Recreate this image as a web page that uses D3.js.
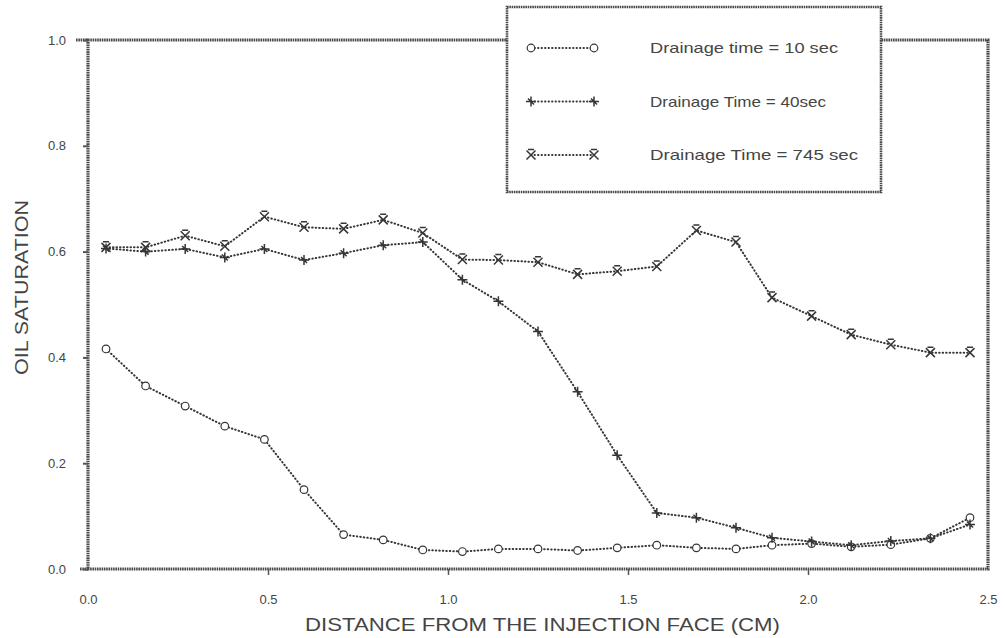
<!DOCTYPE html>
<html>
<head>
<meta charset="utf-8">
<script src="https://cdn.jsdelivr.net/npm/d3@7"></script>
<style>
  body { margin: 0; background: #fff; }
  svg text { font-family: "Liberation Sans", Arial, sans-serif; fill: #454545; }
</style>
</head>
<body>
<div id="chart"></div>
<script>
// distance from the injection face (cm)
const distance = [0.05, 0.16, 0.27, 0.38, 0.49, 0.60, 0.71, 0.82, 0.93, 1.04, 1.14, 1.25,
                  1.36, 1.47, 1.58, 1.69, 1.80, 1.90, 2.01, 2.12, 2.23, 2.34, 2.45];

const sat10 = [0.416, 0.346, 0.308, 0.270, 0.245, 0.150, 0.065, 0.055, 0.036, 0.033, 0.038, 0.038,
               0.035, 0.040, 0.045, 0.040, 0.038, 0.045, 0.048, 0.042, 0.046, 0.058, 0.097];
const sat40 = [0.606, 0.600, 0.605, 0.589, 0.605, 0.584, 0.597, 0.612, 0.618, 0.547, 0.506, 0.449,
               0.335, 0.215, 0.106, 0.097, 0.078, 0.059, 0.052, 0.045, 0.053, 0.058, 0.084];
const sat745 = [0.608, 0.608, 0.630, 0.610, 0.666, 0.646, 0.643, 0.660, 0.635, 0.585, 0.584, 0.580,
                0.557, 0.563, 0.572, 0.640, 0.618, 0.513, 0.478, 0.443, 0.424, 0.409, 0.409];

const seriesNames = ['Drainage time = 10 sec', 'Drainage Time = 40sec', 'Drainage Time = 745 sec'];
const seriesMarks = ['circle', 'plus', 'cross'];
const xTicks = [0.0, 0.5, 1.0, 1.5, 2.0, 2.5];
const yTicks = [0.0, 0.2, 0.4, 0.6, 0.8, 1.0];

const width = 1005, height = 638;
const ink = '#363636';
const frameInk = '#4a4a4a';

const x = d3.scaleLinear().domain([0, 2.5]).range([88, 988]);
const y = d3.scaleLinear().domain([0, 1]).range([569, 40]);

const svg = d3.select('#chart').append('svg')
    .attr('width', width)
    .attr('height', height);

// frame, drawn like the scanned hatched border
svg.append('rect')
    .attr('x', x(0)).attr('y', y(1))
    .attr('width', x(2.5) - x(0)).attr('height', y(0) - y(1))
    .attr('fill', 'none')
    .attr('stroke', frameInk)
    .attr('stroke-width', 3.2)
    .attr('stroke-dasharray', '1.6,0.7');

// little overhangs at the left of top and bottom lines
svg.append('line').attr('x1', x(0) - 12).attr('x2', x(0)).attr('y1', y(1)).attr('y2', y(1))
    .attr('stroke', frameInk).attr('stroke-width', 3.2).attr('stroke-dasharray', '1.6,0.7');
svg.append('line').attr('x1', x(0) - 8).attr('x2', x(0)).attr('y1', y(0)).attr('y2', y(0))
    .attr('stroke', frameInk).attr('stroke-width', 3.2).attr('stroke-dasharray', '1.6,0.7');

// axes
const yAxis = svg.append('g')
    .attr('transform', `translate(${x(0)},0)`)
    .call(d3.axisLeft(y).tickValues(yTicks).tickFormat(d3.format('.1f')).tickSize(5).tickPadding(17));
yAxis.select('.domain').remove();
yAxis.selectAll('line').attr('stroke', '#555').attr('stroke-width', 2);
yAxis.selectAll('text').attr('font-size', 13).attr('fill', '#555');

const xAxis = svg.append('g')
    .attr('transform', `translate(0,${y(0)})`)
    .call(d3.axisBottom(x).tickValues(xTicks).tickFormat(d3.format('.1f')).tickSize(6).tickPadding(20));
xAxis.select('.domain').remove();
xAxis.selectAll('line').attr('stroke', '#555').attr('stroke-width', 1.5)
    .filter(d => d === 0 || d === 2.5).remove();
xAxis.selectAll('text').attr('font-size', 13).attr('fill', '#555');

// axis titles
svg.append('text')
    .attr('x', 305).attr('y', 631)
    .attr('font-size', 18)
    .attr('textLength', 475)
    .attr('lengthAdjust', 'spacingAndGlyphs')
    .text('DISTANCE FROM THE INJECTION FACE (CM)');

svg.append('text')
    .attr('transform', 'translate(28,375) rotate(-90)')
    .attr('font-size', 18)
    .attr('textLength', 175)
    .attr('lengthAdjust', 'spacingAndGlyphs')
    .text('OIL SATURATION');

// markers
function drawMark(g, kind, cx, cy) {
    if (kind === 'circle') {
        g.append('circle').attr('cx', cx).attr('cy', cy).attr('r', 3.8)
            .attr('fill', '#fff').attr('stroke', ink).attr('stroke-width', 1.2);
    } else if (kind === 'plus') {
        const s = 5;
        g.append('path')
            .attr('d', `M${cx - s},${cy}L${cx + s},${cy}M${cx},${cy - s}L${cx},${cy + s}` +
                       `M${cx - 3},${cy - 3}L${cx + 3},${cy + 3}`)
            .attr('stroke', ink).attr('stroke-width', 1.5).attr('fill', 'none');
    } else {
        const s = 4.5;
        g.append('path')
            .attr('d', `M${cx - s},${cy - s}L${cx + s},${cy + s}M${cx - s},${cy + s}L${cx + s},${cy - s}` +
                       `M${cx - 3},${cy - s - 1}L${cx + 3},${cy - s - 1}`)
            .attr('stroke', ink).attr('stroke-width', 1.5).attr('fill', 'none');
    }
}

const line = d3.line()
    .x(d => x(d[0]))
    .y(d => y(d[1]));

const allSeries = [sat10, sat40, sat745];
allSeries.forEach((vals, i) => {
    const pts = distance.map((d, j) => [d, vals[j]]);
    const g = svg.append('g');
    g.append('path')
        .datum(pts)
        .attr('d', line)
        .attr('fill', 'none')
        .attr('stroke', ink)
        .attr('stroke-width', 2)
        .attr('stroke-linecap', 'round')
        .attr('stroke-dasharray', '0.5,3');
    pts.forEach(p => drawMark(g, seriesMarks[i], x(p[0]), y(p[1])));
});

// legend box (white, covers the top frame line)
const legend = svg.append('g');
legend.append('rect')
    .attr('x', 507).attr('y', 7)
    .attr('width', 374).attr('height', 185)
    .attr('fill', '#fff')
    .attr('stroke', frameInk)
    .attr('stroke-width', 2.6)
    .attr('stroke-dasharray', '1.6,0.7');

const legendLengths = [188, 176, 208];
seriesNames.forEach((name, i) => {
    const ly = 48 + i * 53.5;
    legend.append('line')
        .attr('x1', 531).attr('x2', 594)
        .attr('y1', ly).attr('y2', ly)
        .attr('stroke', ink)
        .attr('stroke-width', 1.8)
        .attr('stroke-linecap', 'round')
        .attr('stroke-dasharray', '0.5,3');
    drawMark(legend, seriesMarks[i], 531, ly);
    drawMark(legend, seriesMarks[i], 594, ly);
    legend.append('text')
        .attr('x', 650).attr('y', ly + 5)
        .attr('font-size', 15)
        .attr('textLength', legendLengths[i])
        .attr('lengthAdjust', 'spacingAndGlyphs')
        .text(name);
});
</script>
</body>
</html>
